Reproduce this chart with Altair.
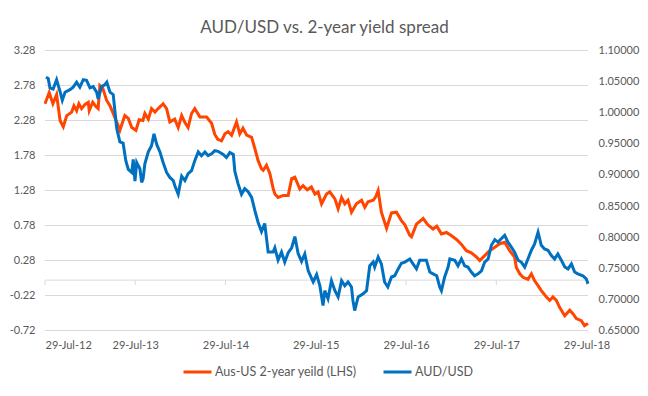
import altair as alt
import pandas as pd

# ---------------- data ----------------
red_dates = [
    "2012-07-29", "2012-08-15", "2012-08-30", "2012-09-14", "2012-09-28", "2012-10-11", "2012-10-25",
    "2012-11-14", "2012-11-23", "2012-12-04", "2012-12-13", "2012-12-24",
    "2013-01-07", "2013-01-20", "2013-01-24", "2013-02-07", "2013-02-20", "2013-03-01", "2013-03-08",
    "2013-03-20", "2013-04-04", "2013-04-18", "2013-04-30", "2013-05-15", "2013-05-28", "2013-06-17",
    "2013-07-01", "2013-07-15", "2013-08-01", "2013-08-14", "2013-08-29", "2013-09-06", "2013-09-20",
    "2013-10-03", "2013-10-17", "2013-10-30", "2013-11-19", "2013-12-03", "2013-12-16",
    "2014-01-05", "2014-01-19", "2014-02-02", "2014-02-15", "2014-02-28", "2014-03-14", "2014-03-27",
    "2014-04-17", "2014-05-14", "2014-06-03", "2014-06-16", "2014-06-28", "2014-07-13", "2014-07-27",
    "2014-08-09", "2014-08-23", "2014-09-12", "2014-09-25", "2014-10-08", "2014-10-23", "2014-11-12",
    "2014-11-25", "2014-12-08", "2014-12-22", "2014-12-29",
    "2015-01-11", "2015-01-25", "2015-02-07", "2015-02-14", "2015-02-27", "2015-03-20", "2015-04-09",
    "2015-04-23", "2015-05-06", "2015-05-26", "2015-06-08", "2015-06-25", "2015-07-12", "2015-07-26",
    "2015-08-08", "2015-08-22", "2015-09-11", "2015-09-24", "2015-10-15", "2015-10-28", "2015-11-11",
    "2015-11-24", "2015-12-07", "2015-12-21",
    "2016-01-10", "2016-01-31", "2016-02-13", "2016-02-26", "2016-03-18", "2016-03-28", "2016-04-07",
    "2016-04-20", "2016-05-11", "2016-05-31", "2016-06-20", "2016-07-10", "2016-07-24", "2016-08-13",
    "2016-08-20", "2016-09-09", "2016-10-06", "2016-10-25", "2016-11-15", "2016-11-30", "2016-12-19",
    "2017-01-08", "2017-01-26", "2017-02-18", "2017-03-10", "2017-03-30", "2017-04-19", "2017-05-10",
    "2017-05-23", "2017-06-12", "2017-07-02", "2017-07-23", "2017-08-12", "2017-09-01", "2017-09-21",
    "2017-10-11", "2017-10-18", "2017-11-01", "2017-11-14", "2017-12-04", "2017-12-18", "2017-12-31",
    "2018-01-14", "2018-01-27", "2018-02-17", "2018-03-02", "2018-03-15", "2018-03-29", "2018-04-11",
    "2018-05-02", "2018-05-22", "2018-06-04", "2018-06-18", "2018-07-08", "2018-07-21", "2018-08-04",
]
red_values = [
    2.52, 2.68, 2.52, 2.65, 2.28, 2.19, 2.35, 2.40, 2.49, 2.42, 2.52, 2.45,
    2.51, 2.54, 2.42, 2.54, 2.48, 2.45, 2.78, 2.74, 2.57, 2.49, 2.39, 2.26, 2.14, 2.35,
    2.31, 2.18, 2.14, 2.29, 2.28, 2.38, 2.30, 2.45, 2.40, 2.45, 2.52, 2.45, 2.26,
    2.30, 2.18, 2.35, 2.25, 2.18, 2.38, 2.45, 2.33, 2.33, 2.24, 2.08, 2.01, 1.99, 2.09,
    2.12, 2.07, 2.26, 2.09, 2.17, 2.07, 2.04, 1.88, 1.71, 1.59, 1.57,
    1.64, 1.52, 1.31, 1.23, 1.18, 1.21, 1.21, 1.45, 1.47, 1.30, 1.35, 1.29, 1.33, 1.23,
    1.26, 1.09, 1.23, 1.26, 1.16, 1.02, 1.18, 1.09, 1.14, 0.97,
    1.09, 1.14, 1.04, 1.12, 1.14, 1.19, 1.28, 0.97, 0.74, 0.96, 0.97, 0.85, 0.79, 0.64,
    0.62, 0.80, 0.88, 0.79, 0.73, 0.77, 0.66,
    0.68, 0.64, 0.58, 0.51, 0.42, 0.39, 0.33, 0.28, 0.35, 0.42, 0.47, 0.52, 0.54, 0.42,
    0.33, 0.18, 0.09, 0.04, 0.01, 0.09, -0.01,
    -0.08, -0.15, -0.24, -0.29, -0.24, -0.29, -0.39, -0.51, -0.43, -0.48, -0.55, -0.58, -0.65, -0.62,
]

blue_dates = [
    "2012-08-02", "2012-08-11", "2012-08-18", "2012-08-31", "2012-09-14", "2012-09-28", "2012-10-07",
    "2012-10-18", "2012-11-07", "2012-11-20", "2012-12-04", "2012-12-17", "2012-12-31",
    "2013-01-13", "2013-01-27", "2013-02-09", "2013-02-23", "2013-03-01", "2013-03-15", "2013-03-28",
    "2013-04-05", "2013-04-18", "2013-05-01", "2013-05-15", "2013-05-28", "2013-06-10", "2013-06-21",
    "2013-07-01", "2013-07-15", "2013-07-21", "2013-07-28", "2013-08-04", "2013-08-17", "2013-08-24",
    "2013-08-30", "2013-09-06", "2013-09-20", "2013-10-03", "2013-10-13", "2013-10-24", "2013-11-06",
    "2013-11-19", "2013-12-03", "2013-12-16", "2013-12-30",
    "2014-01-05", "2014-01-19", "2014-02-02", "2014-02-15", "2014-02-28", "2014-03-14", "2014-03-27",
    "2014-04-10", "2014-04-23", "2014-05-07", "2014-05-20", "2014-06-03", "2014-06-16", "2014-06-29",
    "2014-07-20", "2014-08-02", "2014-08-16", "2014-08-30", "2014-09-05", "2014-09-18", "2014-10-02",
    "2014-10-15", "2014-10-29", "2014-11-12", "2014-11-25", "2014-12-08", "2014-12-22",
    "2015-01-04", "2015-01-18", "2015-02-07", "2015-02-14", "2015-02-27", "2015-03-13", "2015-03-26",
    "2015-04-09", "2015-04-23", "2015-05-06", "2015-05-19", "2015-06-02", "2015-06-15", "2015-06-29",
    "2015-07-19", "2015-08-02", "2015-08-15", "2015-08-28", "2015-09-04", "2015-09-17", "2015-10-01",
    "2015-10-15", "2015-10-28", "2015-11-11", "2015-11-24", "2015-12-07", "2015-12-21", "2015-12-27",
    "2016-01-03", "2016-01-17", "2016-02-06", "2016-02-20", "2016-03-04", "2016-03-18", "2016-03-24",
    "2016-04-07", "2016-04-20", "2016-05-03", "2016-05-16", "2016-05-31", "2016-06-13", "2016-06-27",
    "2016-07-10", "2016-07-24", "2016-08-13", "2016-08-26", "2016-09-09", "2016-09-22", "2016-10-19",
    "2016-11-02", "2016-11-15", "2016-11-30", "2016-12-12", "2016-12-19",
    "2017-01-01", "2017-01-15", "2017-01-22", "2017-02-11", "2017-02-24", "2017-03-10", "2017-03-23",
    "2017-04-05", "2017-04-19", "2017-05-02", "2017-05-16", "2017-05-30", "2017-06-12", "2017-06-26",
    "2017-07-09", "2017-07-23", "2017-08-05", "2017-08-12", "2017-09-01", "2017-09-14", "2017-09-28",
    "2017-10-11", "2017-10-25", "2017-11-07", "2017-11-21", "2017-12-04", "2017-12-18", "2017-12-31",
    "2018-01-14", "2018-01-27", "2018-02-09", "2018-02-23", "2018-03-08", "2018-03-22", "2018-04-04",
    "2018-04-18", "2018-05-02", "2018-05-15", "2018-05-29", "2018-06-11", "2018-06-24", "2018-07-14",
    "2018-07-28", "2018-08-04",
]
blue_values = [
    1.057, 1.055, 1.040, 1.038, 1.053, 1.034, 1.020, 1.033, 1.037, 1.041, 1.049, 1.041, 1.053,
    1.052, 1.040, 1.042, 1.033, 1.022, 1.042, 1.045, 1.049, 1.033, 1.029, 0.975, 0.953, 0.951, 0.923,
    0.909, 0.904, 0.925, 0.890, 0.920, 0.910, 0.888, 0.894, 0.918, 0.937, 0.947, 0.966, 0.949, 0.937,
    0.920, 0.904, 0.896, 0.891,
    0.883, 0.869, 0.898, 0.891, 0.902, 0.907, 0.923, 0.937, 0.931, 0.937, 0.931, 0.934, 0.939, 0.938,
    0.933, 0.928, 0.936, 0.933, 0.906, 0.886, 0.869, 0.878, 0.873, 0.864, 0.843, 0.824, 0.809,
    0.822, 0.776, 0.776, 0.783, 0.763, 0.776, 0.760, 0.775, 0.783, 0.801, 0.774, 0.761, 0.773, 0.746,
    0.728, 0.740, 0.722, 0.690, 0.714, 0.701, 0.730, 0.714, 0.704, 0.730, 0.722, 0.728, 0.720, 0.698,
    0.682, 0.704, 0.709, 0.714, 0.754, 0.760, 0.752, 0.768, 0.757, 0.728, 0.720, 0.736, 0.738, 0.749,
    0.758, 0.760, 0.765, 0.757, 0.749, 0.763, 0.763, 0.744, 0.741, 0.738, 0.720, 0.714,
    0.736, 0.752, 0.765, 0.763, 0.754, 0.765, 0.754, 0.752, 0.744, 0.738, 0.741, 0.746, 0.760, 0.765,
    0.787, 0.796, 0.792, 0.795, 0.803, 0.792, 0.784, 0.776, 0.763, 0.760, 0.752, 0.765, 0.779, 0.789,
    0.808, 0.787, 0.781, 0.779, 0.771, 0.765, 0.773, 0.763, 0.752, 0.749, 0.757, 0.744, 0.741, 0.738,
    0.733, 0.725,
]

x_tick_dates = ["2012-07-29", "2013-07-29", "2014-07-29", "2015-07-29",
                "2016-07-29", "2017-07-29", "2018-07-29"]
x_domain = ["2012-07-29", "2018-08-04"]
left_ticks = [-0.72, -0.22, 0.28, 0.78, 1.28, 1.78, 2.28, 2.78, 3.28]
right_ticks = [0.65, 0.70, 0.75, 0.80, 0.85, 0.90, 0.95, 1.00, 1.05, 1.10]
left_domain = [-0.72, 3.28]
right_domain = [0.65, 1.10]
x_axis_crossing = [0.0]

RED_NAME = "Aus-US 2-year yeild (LHS)"
BLUE_NAME = "AUD/USD"
TITLE = "AUD/USD vs. 2-year yield spread"

# ---------------- styling ----------------
FONT = "Lato"
GREY = "#595959"
GRID = "#D9D9D9"
RED = "#FF4500"
BLUE = "#0070C0"


def to_dt(s):
    y, m, d = (int(p) for p in s.split("-"))
    return alt.DateTime(year=y, month=m, date=d)


red_df = pd.DataFrame({"date": pd.to_datetime(red_dates), "value": red_values, "series": RED_NAME})
blue_df = pd.DataFrame({"date": pd.to_datetime(blue_dates), "value": blue_values, "series": BLUE_NAME})
tick_df = pd.DataFrame({"date": pd.to_datetime(x_tick_dates)})
grid_df = pd.DataFrame({"level": left_ticks})
zero_df = pd.DataFrame({"level": x_axis_crossing})

xscale = alt.Scale(domain=[to_dt(s) for s in x_domain])
xaxis = alt.Axis(values=[to_dt(s) for s in x_tick_dates], format="%d-%b-%y", title=None,
                 domain=False, ticks=False, grid=False, labelColor=GREY, labelFont=FONT,
                 labelFontSize=11, labelPadding=9, labelOverlap=False)
left_axis = alt.Axis(values=left_ticks, title=None, domain=False, ticks=False, grid=False,
                     labelColor=GREY, labelFont=FONT, labelOverlap=False,
                     labelExpr="(datum.value < 0 ? '-' : '') + format(abs(datum.value), '.2f')",
                     labelFontSize=11, labelPadding=10)
right_axis = alt.Axis(values=right_ticks, format=".5f", title=None, orient="right", domain=False,
                      ticks=False, grid=False, labelColor=GREY, labelFont=FONT, labelOverlap=False,
                      labelFontSize=11, labelPadding=10)
cscale = alt.Scale(domain=[RED_NAME, BLUE_NAME], range=[RED, BLUE])
legend = alt.Legend(title=None, orient="none", legendX=137, legendY=306, direction="horizontal",
                    symbolType="stroke", symbolSize=784, symbolStrokeWidth=3,
                    labelFontSize=12.5, labelColor=GREY, labelFont=FONT, columnPadding=20,
                    labelOffset=2)


def left_scale():
    return alt.Scale(domain=left_domain, nice=False, zero=False)


grid_rules = alt.Chart(grid_df).mark_rule(color=GRID, strokeWidth=1).encode(
    y=alt.Y("level:Q", scale=left_scale(), axis=None)
)
zero_rule = alt.Chart(zero_df).mark_rule(color=GRID, strokeWidth=1).encode(
    y=alt.Y("level:Q", scale=left_scale(), axis=None)
)
tick_rules = alt.Chart(tick_df).mark_rule(color=GRID, strokeWidth=1).encode(
    x=alt.X("date:T", scale=xscale, axis=xaxis),
    y=alt.Y(datum=0, scale=left_scale(), axis=None),
    y2=alt.datum(-0.07),
)
red_line = alt.Chart(red_df).mark_line(strokeWidth=3).encode(
    x=alt.X("date:T", scale=xscale, axis=xaxis),
    y=alt.Y("value:Q", scale=left_scale(), axis=left_axis),
    color=alt.Color("series:N", scale=cscale, legend=legend),
)
blue_line = alt.Chart(blue_df).mark_line(strokeWidth=3).encode(
    x=alt.X("date:T", scale=xscale, axis=xaxis),
    y=alt.Y("value:Q", scale=alt.Scale(domain=right_domain, nice=False, zero=False),
            axis=right_axis),
    color=alt.Color("series:N", scale=cscale, legend=legend),
)

chart = (
    alt.layer(grid_rules, zero_rule, tick_rules, red_line, blue_line)
    .resolve_scale(y="independent")
    .properties(
        width=543,
        height=280,
        title=alt.TitleParams(text=TITLE, fontSize=17, font=FONT, fontWeight="normal",
                              color=GREY, anchor="middle", offset=14, dy=19, dx=8,
                              baseline="alphabetic"),
        padding={"left": 37, "top": 42.5, "right": 52, "bottom": 57.5},
        autosize=alt.AutoSizeParams(type="none"),
        background="white",
    )
    .configure_view(stroke=None)
)

chart.save("out.html", embed_options={"renderer": "svg", "actions": False})
